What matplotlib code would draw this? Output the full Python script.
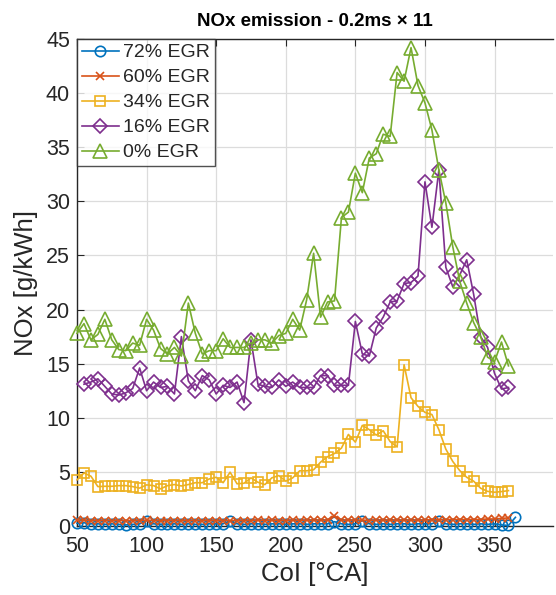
import matplotlib
matplotlib.use("Agg")
import matplotlib.pyplot as plt
import numpy as np

plt.rcParams['font.family'] = ['Liberation Sans', 'DejaVu Sans']

# ---- data ----
x_72 = list(range(50, 366, 5))
y_72 = [0.25, 0.3, 0.2, 0.2, 0.15, 0.2, 0.15, 0.1, 0.15, 0.2, 0.5, 0.2, 0.15, 0.15, 0.2,
        0.15, 0.2, 0.15, 0.15, 0.2, 0.2, 0.2, 0.45, 0.2, 0.15, 0.2, 0.2, 0.15, 0.2, 0.2,
        0.15, 0.2, 0.2, 0.15, 0.2, 0.2, 0.2, 0.4, 0.2, 0.15, 0.2, 0.5, 0.2, 0.15, 0.2,
        0.15, 0.2, 0.2, 0.15, 0.2, 0.2, 0.2, 0.5, 0.2, 0.15, 0.2, 0.2, 0.15, 0.2, 0.15,
        0.2, 0.1, 0.05, 0.8]
x_60 = list(range(50, 361, 5))
y_60 = [0.55, 0.55, 0.5, 0.5, 0.5, 0.5, 0.5, 0.5, 0.5, 0.5, 0.55, 0.5, 0.5, 0.5, 0.5,
        0.5, 0.5, 0.5, 0.5, 0.5, 0.5, 0.5, 0.5, 0.5, 0.5, 0.5, 0.55, 0.5, 0.55, 0.5,
        0.5, 0.55, 0.5, 0.55, 0.55, 0.55, 0.55, 0.95, 0.55, 0.55, 0.55, 0.55, 0.5, 0.55, 0.55,
        0.55, 0.55, 0.55, 0.55, 0.55, 0.55, 0.6, 0.55, 0.6, 0.6, 0.6, 0.6, 0.6, 0.6, 0.65,
        0.65, 0.7, 0.75]
x_34 = list(range(50, 361, 5))
y_34 = [4.26, 4.9, 4.6, 3.64, 3.67, 3.67, 3.73, 3.73, 3.64, 3.5, 3.8, 3.73, 3.43, 3.73, 3.83,
        3.7, 3.83, 4.0, 4.0, 4.35, 4.5, 4.0, 4.97, 3.9, 3.95, 4.45, 4.04, 3.83, 4.45, 4.66,
        4.14, 4.45, 5.1, 5.1, 5.2, 5.9, 6.4, 6.7, 7.2, 8.46, 7.75, 9.3, 8.9, 8.4, 8.8,
        7.8, 7.3, 14.9, 11.85, 11.05, 10.5, 10.3, 8.9, 7.1, 5.96, 5.12, 4.5, 4.14, 3.49, 3.2,
        3.12, 3.18, 3.27]
x_16 = list(range(55, 361, 5))
y_16 = [13.1, 13.3, 13.6, 12.9, 12.2, 12.1, 12.3, 12.7, 14.6, 12.5, 13.3, 12.8, 12.9, 12.2,
        17.5, 13.4, 12.5, 13.9, 13.5, 12.2, 13.0, 12.8, 13.3, 11.4, 17.2, 13.1, 12.9, 12.8,
        13.5, 12.9, 13.3, 12.8, 12.8, 12.8, 13.9, 13.9, 13.0, 13.0, 13.0, 18.9, 15.9, 15.7,
        18.3, 19.3, 20.7, 20.8, 22.4, 22.5, 23.1, 31.8, 27.6, 32.9, 23.9, 22.1, 23.2, 24.6,
        21.4, 17.5, 16.5, 14.1, 12.65, 12.8]
x_0 = list(range(50, 361, 5))
y_0 = [17.8, 18.7, 17.2, 17.7, 19.1, 17.2, 16.3, 16.2, 16.9, 16.7, 19.1, 18.1, 16.4, 15.9, 16.5,
       15.7, 20.6, 17.8, 15.9, 16.2, 16.2, 17.3, 16.5, 16.5, 16.5, 16.9, 17.2, 17.2, 16.9, 17.6,
       17.8, 19.1, 18.1, 20.9, 25.2, 19.3, 20.7, 20.8, 28.5, 29.0, 32.6, 30.8, 34.0, 34.4, 36.2,
       36.0, 41.9, 41.1, 44.2, 40.7, 39.1, 36.6, 32.9, 29.85, 25.8, 22.6, 20.6, 18.8, 17.5, 15.6,
       15.2, 17.0, 14.8]

labels = ['72% EGR', '60% EGR', '34% EGR', '16% EGR', '0% EGR']
x_ticks = [50, 100, 150, 200, 250, 300, 350]
y_ticks = [0, 5, 10, 15, 20, 25, 30, 35, 40, 45]

colors = ['#0072BD', '#D95319', '#EDB120', '#7E2F8E', '#77AC30']
markers = ['o', 'x', 's', 'D', '^']
msizes = [7.5, 6, 7, 7, 9.5]

fig = plt.figure(figsize=(5.56, 5.95), dpi=100)
ax = fig.add_axes([77/556, 69/595, (553-77)/556, (526-39)/595])

series = [(x_72, y_72), (x_60, y_60), (x_34, y_34), (x_16, y_16), (x_0, y_0)]
for (xs, ys), lab, c, m, ms in zip(series, labels, colors, markers, msizes):
    ax.plot(xs, ys, color=c, marker=m, markersize=ms, markerfacecolor='none',
            markeredgewidth=1.2, linewidth=1.2, label=lab, clip_on=False, zorder=3)

ax.set_xlim(50, 392)
ax.set_ylim(0, 45)
ax.set_xticks(x_ticks)
ax.set_yticks(y_ticks)
ax.grid(True, color='#dcdcdc', linewidth=0.9)
ax.set_axisbelow(True)

dark = '#262626'
for s in ['left', 'bottom', 'top']:
    ax.spines[s].set_color(dark)
    ax.spines[s].set_linewidth(1.0)
ax.spines['right'].set_visible(False)
ax.tick_params(axis='both', direction='in', length=5, width=0.8, colors=dark,
               labelsize=15.5, top=True, right=False)
ax.tick_params(axis='x', pad=7)
ax.tick_params(axis='y', pad=5)

ax.set_xlabel('CoI [°CA]', fontsize=18.5, color=dark, labelpad=4)
ax.set_ylabel('NOx [g/kWh]', fontsize=18.5, color=dark, labelpad=6)
ax.set_title('NOx emission - 0.2ms × 11', fontsize=13.5, fontweight='bold', color='black', pad=9)

leg = ax.legend(loc='upper left', fontsize=14, frameon=True, fancybox=False,
                edgecolor=dark, borderaxespad=0, handlelength=1.9, handletextpad=0.2,
                borderpad=0.25, labelspacing=0.38)
leg.get_frame().set_linewidth(1.0)
for t in leg.get_texts():
    t.set_color(dark)

fig.savefig('out.png', dpi=100)
